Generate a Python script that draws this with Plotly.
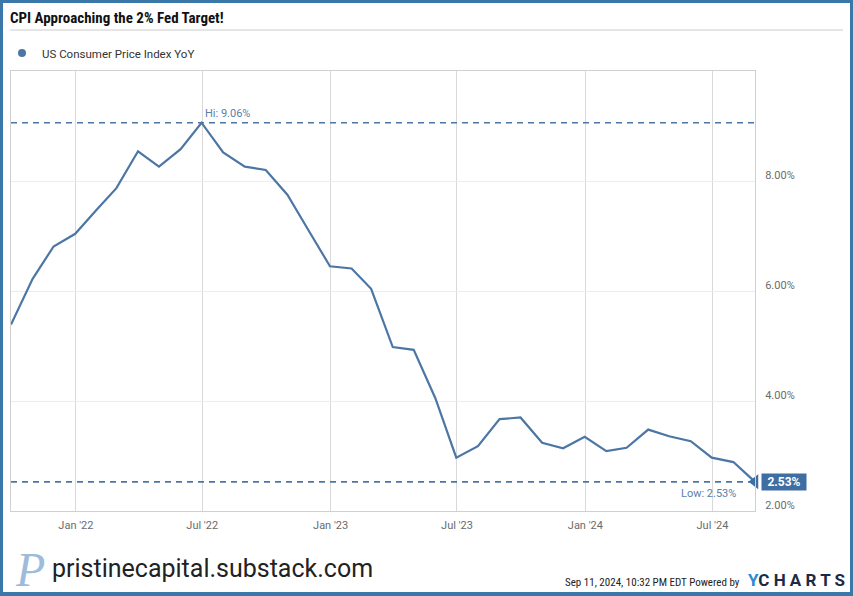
import plotly.graph_objects as go

# ---- data ----
months = ["2021-09-30", "2021-10-31", "2021-11-30", "2021-12-31",
          "2022-01-31", "2022-02-28", "2022-03-31", "2022-04-30", "2022-05-31", "2022-06-30",
          "2022-07-31", "2022-08-31", "2022-09-30", "2022-10-31", "2022-11-30", "2022-12-31",
          "2023-01-31", "2023-02-28", "2023-03-31", "2023-04-30", "2023-05-31", "2023-06-30",
          "2023-07-31", "2023-08-31", "2023-09-30", "2023-10-31", "2023-11-30", "2023-12-31",
          "2024-01-31", "2024-02-29", "2024-03-31", "2024-04-30", "2024-05-31", "2024-06-30",
          "2024-07-31", "2024-08-31"]
cpi_yoy = [5.39, 6.22, 6.81, 7.04,
           7.48, 7.87, 8.54, 8.26, 8.58, 9.06,
           8.52, 8.26, 8.20, 7.75, 7.11, 6.45,
           6.41, 6.04, 4.98, 4.93, 4.05, 2.97,
           3.18, 3.67, 3.70, 3.24, 3.14, 3.35,
           3.09, 3.15, 3.48, 3.36, 3.27, 2.97,
           2.89, 2.53]
y_ticks = [2, 4, 6, 8]
y_tick_labels = ["2.00%", "4.00%", "6.00%", "8.00%"]
series_name = "US Consumer Price Index YoY"
title_text = "CPI Approaching the 2% Fed Target!"

LINE = "#4c76a4"
FRAME = "#3b78aa"
W, H = 853, 596
ML, MR, MT, MB = 11, 98, 71, 85
PW, PH = W - ML - MR, H - MT - MB


def px(xp):
    return (xp - ML) / PW


def py(yp):
    return (H - MB - yp) / PH


hi = max(cpi_yoy)
lo = min(cpi_yoy)
hi_date = months[cpi_yoy.index(hi)]

fig = go.Figure()

# dashed hi / low lines
for v in (hi, lo):
    fig.add_trace(go.Scatter(x=[months[0], months[-1]], y=[v, v], mode="lines",
                             line=dict(color=LINE, width=1.6, dash="6px,5px"),
                             hoverinfo="skip", showlegend=False))

fig.add_trace(go.Scatter(x=months, y=cpi_yoy, mode="lines",
                         line=dict(color=LINE, width=2.2), showlegend=False,
                         name=series_name))

# legend-only marker entry
fig.add_trace(go.Scatter(x=[None], y=[None], mode="markers", name=series_name,
                         marker=dict(color=LINE, size=8), showlegend=True))

# tag arrow
fig.add_trace(go.Scatter(x=[months[-1]], y=[cpi_yoy[-1]], mode="markers",
                         marker=dict(symbol="triangle-left", size=13, color="#3f6ea3"),
                         cliponaxis=False, showlegend=False, hoverinfo="skip"))

font_main = "Roboto, Liberation Sans, Arial, sans-serif"
font_cond = "Roboto Condensed, Liberation Sans Narrow, DejaVu Sans Condensed, Roboto, sans-serif"

annotations = [
    dict(x=hi_date, y=hi, xref="x", yref="y", text=f"Hi: {hi:.2f}%", showarrow=False,
         xanchor="left", yanchor="bottom", xshift=1, yshift=1,
         font=dict(family=font_main, size=11, color="#5b80aa")),
    dict(x=months[-1], y=lo, xref="x", yref="y", text=f"Low: {lo:.2f}%", showarrow=False,
         xanchor="right", yanchor="top", xshift=-17, yshift=-3,
         font=dict(family=font_main, size=11, color="#5b80aa")),
    dict(x=months[-1], y=cpi_yoy[-1], xref="x", yref="y", text=f"<b>{cpi_yoy[-1]:.2f}%</b>",
         showarrow=False, xanchor="left", xshift=6, bgcolor="#3f6ea3", borderpad=1,
         width=42, height=14, align="center",
         font=dict(family=font_main, size=12, color="white")),
    dict(x=px(50), y=py(568), xref="paper", yref="paper", text="pristinecapital.substack.com",
         showarrow=False, xanchor="left", yanchor="middle",
         font=dict(family=font_main, size=25, color="#222222")),
    dict(x=px(30), y=py(569), xref="paper", yref="paper", text="<i>P</i>",
         showarrow=False, xanchor="center", yanchor="middle",
         font=dict(family="Liberation Serif, serif", size=48, color="#9dbcdc")),
    dict(x=px(742), y=py(582), xref="paper", yref="paper",
         text="Sep 11, 2024, 10:32 PM EDT Powered by", showarrow=False,
         xanchor="right", yanchor="middle",
         font=dict(family=font_cond, size=11, color="#222222")),
    dict(x=px(746), y=py(580), xref="paper", yref="paper",
         text="<b><span style='color:#2f8bd0'>Y</span>C H A R T S</b>", showarrow=False,
         xanchor="left", yanchor="middle",
         font=dict(family=font_main, size=17, color="#1b2a45")),
]

shapes = [
    # title separator
    dict(type="line", xref="paper", yref="paper", x0=px(10), x1=px(843), y0=py(30), y1=py(30),
         line=dict(color="#cccccc", width=1)),
    # frame
    dict(type="rect", xref="paper", yref="paper", x0=px(0), x1=px(3), y0=py(0), y1=py(H),
         fillcolor=FRAME, line=dict(width=0), layer="above"),
    dict(type="rect", xref="paper", yref="paper", x0=px(W - 3), x1=px(W), y0=py(0), y1=py(H),
         fillcolor=FRAME, line=dict(width=0), layer="above"),
    dict(type="rect", xref="paper", yref="paper", x0=px(0), x1=px(W), y0=py(0), y1=py(3),
         fillcolor=FRAME, line=dict(width=0), layer="above"),
    dict(type="rect", xref="paper", yref="paper", x0=px(0), x1=px(W), y0=py(H - 4), y1=py(H),
         fillcolor=FRAME, line=dict(width=0), layer="above"),
]

fig.update_layout(
    width=W, height=H, autosize=False,
    margin=dict(l=ML, r=MR, t=MT, b=MB, pad=0, autoexpand=False),
    paper_bgcolor="white", plot_bgcolor="white",
    title=dict(text=f"<b>{title_text}</b>", xref="container", yref="container",
               x=10 / W, y=1 - 18 / H, xanchor="left", yanchor="middle",
               font=dict(family=font_cond, size=15, color="#111111")),
    showlegend=True,
    legend=dict(x=px(2), y=py(53), xanchor="left", yanchor="middle", orientation="h",
                font=dict(family=font_main, size=11.5, color="#333333"),
                bgcolor="rgba(0,0,0,0)", itemwidth=30),
    xaxis=dict(range=[months[0], months[-1]], type="date", tick0="2022-01-01", dtick="M6",
               tickformat="%b '%y", showgrid=True, gridcolor="#d9d9d9", gridwidth=1,
               showline=True, mirror=True, linecolor="#d0d0d0", linewidth=1,
               ticks="", zeroline=False, ticklabelstandoff=4,
               tickfont=dict(family=font_main, size=11, color="#6b6b6b")),
    yaxis=dict(range=[2, 10], side="right", tickmode="array", tickvals=y_ticks,
               ticktext=y_tick_labels,
               showgrid=True, gridcolor="#ececec", gridwidth=1, zeroline=False,
               showline=True, mirror=True, linecolor="#d0d0d0", linewidth=1,
               ticks="", ticklabelstandoff=7, ticklabelshift=-6,
               tickfont=dict(family=font_main, size=11, color="#6b6b6b")),
    annotations=annotations,
    shapes=shapes,
    hovermode=False,
)

fig.write_html("out.html", config={"displayModeBar": False},
               post_script="document.body.style.margin='0';document.body.style.overflow='hidden';")
